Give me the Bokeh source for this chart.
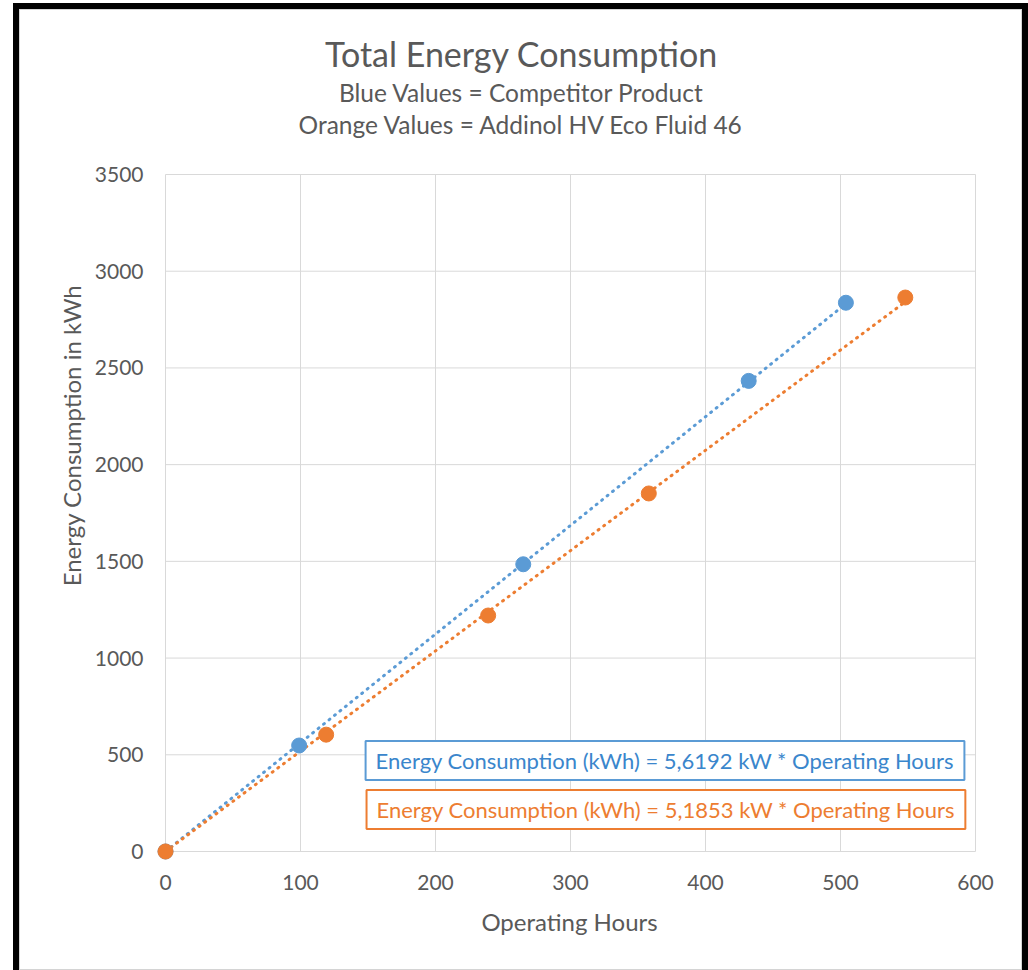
from bokeh.plotting import figure
from bokeh.models import Range1d, Label, FixedTicker
from bokeh.embed import file_html
from bokeh.resources import INLINE

# ---- data ----
blue_hours = [0, 99, 265, 432, 504]
blue_kwh = [0, 548, 1485, 2433, 2837]
orange_hours = [0, 119, 239, 358, 548]
orange_kwh = [0, 604, 1220, 1851, 2864]
blue_slope = 5.6192
orange_slope = 5.1853
x_ticks = [0, 100, 200, 300, 400, 500, 600]
y_ticks = [0, 500, 1000, 1500, 2000, 2500, 3000, 3500]

title_text = "Total Energy Consumption"
subtitle_1 = "Blue Values = Competitor Product"
subtitle_2 = "Orange Values = Addinol HV Eco Fluid 46"
blue_eq = "Energy Consumption (kWh) = 5,6192 kW * Operating Hours"
orange_eq = "Energy Consumption (kWh) = 5,1853 kW * Operating Hours"

BLUE = "#5B9BD5"
ORANGE = "#ED7D31"
GRID = "#d9d9d9"
TXT = "#595959"
FONT = "Lato"

# the plot frame reaches up to the top of the canvas so that the titles can sit inside it
W, H = 1003, 961
p = figure(width=W, height=H, output_backend="svg", toolbar_location=None,
           title_location=None,
           x_range=Range1d(-8.889, 607.407), y_range=Range1d(-51.7, 4353.0),
           min_border_left=134, min_border_right=37, min_border_top=0,
           min_border_bottom=109, background_fill_color=None,
           border_fill_color=None, outline_line_color=None)
p.styles = {
    "margin-left": "19px",
    "margin-top": "9px",
    "background-color": "white",
    "box-shadow": "0 0 0 6px black, inset 0 0 0 1px #d4d4d4",
}

p.xgrid.visible = False
p.ygrid.visible = False

# grid lines built from the tick lists
p.segment(x0=x_ticks, x1=x_ticks, y0=[y_ticks[0]] * len(x_ticks), y1=[y_ticks[-1]] * len(x_ticks),
          line_color=GRID, line_width=1)
p.segment(x0=[x_ticks[0]] * len(y_ticks), x1=[x_ticks[-1]] * len(y_ticks), y0=y_ticks, y1=y_ticks,
          line_color=GRID, line_width=1)

for ax, ticks in ((p.xaxis[0], x_ticks), (p.yaxis[0], y_ticks)):
    ax.ticker = FixedTicker(ticks=ticks)
    ax.bounds = (ticks[0], ticks[-1])
    ax.axis_line_color = None
    ax.major_tick_line_color = None
    ax.minor_tick_line_color = None
    ax.major_label_text_font = FONT
    ax.major_label_text_font_size = "21px"
    ax.major_label_text_color = TXT
    ax.axis_label_text_font = FONT
    ax.axis_label_text_font_size = "24px"
    ax.axis_label_text_color = TXT
    ax.axis_label_text_font_style = "normal"

p.xaxis.axis_label = "Operating Hours"
p.yaxis.axis_label = "Energy Consumption in kWh"
p.xaxis.major_label_standoff = 7
p.xaxis.axis_label_standoff = 14
p.yaxis.major_label_standoff = 4
p.yaxis.axis_label_standoff = 6

# trend lines through origin
blue_tx = [0, max(blue_hours)]
orange_tx = [0, max(orange_hours)]
p.line(blue_tx, [blue_slope * x for x in blue_tx], line_color=BLUE, line_width=3,
       line_dash="1 6", line_cap="round")
p.line(orange_tx, [orange_slope * x for x in orange_tx], line_color=ORANGE, line_width=3,
       line_dash="1 6", line_cap="round")

p.scatter(blue_hours, blue_kwh, size=15, fill_color=BLUE, line_color=BLUE)
p.scatter(orange_hours, orange_kwh, size=15, fill_color=ORANGE, line_color=ORANGE)

# equation boxes
p.add_layout(Label(x=370, y=470, text=blue_eq, text_align="center", text_baseline="middle",
                   text_font=FONT, text_font_size="22px", text_color="#3A86CC",
                   background_fill_color="white", border_line_color=BLUE, border_line_width=2,
                   padding=(10, 6)))
p.add_layout(Label(x=370.7, y=217, text=orange_eq, text_align="center", text_baseline="middle",
                   text_font=FONT, text_font_size="22px", text_color=ORANGE,
                   background_fill_color="white", border_line_color=ORANGE, border_line_width=2,
                   padding=(10, 6)))

# titles (inside the upper, empty part of the frame)
for txt, ty, size in ((title_text, 4125, "34px"), (subtitle_1, 3924, "24.5px"),
                      (subtitle_2, 3758, "24.5px")):
    p.add_layout(Label(x=263.7, y=ty, text=txt, text_align="center", text_baseline="middle",
                       text_font=FONT, text_font_size=size, text_color=TXT))

open("out.html", "w").write(file_html(p, INLINE))
